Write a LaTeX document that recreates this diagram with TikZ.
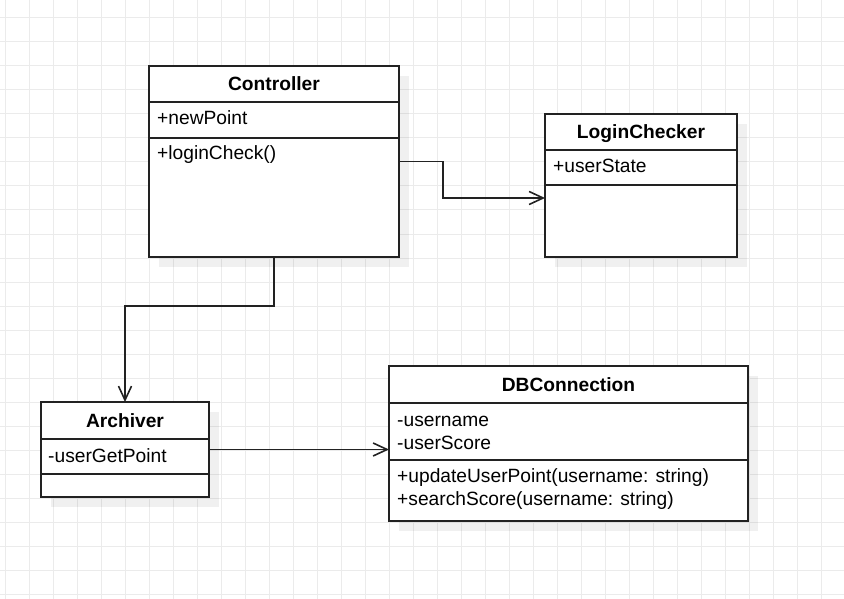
\documentclass[tikz,border=0pt]{standalone}
\usepackage{fontspec}
\setmainfont{Liberation Sans}
\usetikzlibrary{arrows.meta,calc}
\definecolor{gridc}{HTML}{EBEBEB}
\definecolor{linec}{HTML}{222222}
\tikzset{
  box/.style={draw=linec, line width=1.6pt, fill=white, anchor=north west, inner sep=0pt, outer sep=0pt},
  sep/.style={draw=linec, line width=1.6pt},
  shadowbox/.style={fill=black, fill opacity=0.06},
  title/.style={anchor=base, inner sep=0pt, font=\fontsize{19.2}{23}\selectfont\bfseries},
  member/.style={anchor=base west, inner sep=0pt, font=\fontsize{19.2}{23}\selectfont},
  conn/.style={draw=linec, line width=1.7pt, -{Straight Barb[length=14pt,width=13pt,line width=1.6pt]}},
}
\begin{document}
\begin{tikzpicture}[x=1pt,y=-1pt]
\useasboundingbox (0,0) rectangle (844,599);
\fill[white] (0,0) rectangle (844,599);
\foreach \i in {0,...,35} {\draw[gridc, line width=1pt] (5+24*\i,0) -- (5+24*\i,599);}
\foreach \j in {0,...,24} {\draw[gridc, line width=1pt] (0,18+24*\j) -- (844,18+24*\j);}

% shadows
\fill[shadowbox] (159,76) rectangle (409,267);
\fill[shadowbox] (555,124) rectangle (747,267);
\fill[shadowbox] (51,412) rectangle (219,507);
\fill[shadowbox] (399,376) rectangle (758,531);

% Controller
\node[box, minimum width=250pt, minimum height=191pt] (ctrl) at (149,66) {};
\draw[sep] ($(ctrl.north west)+(0,36)$) -- ($(ctrl.north east)+(0,36)$);
\draw[sep] ($(ctrl.north west)+(0,72)$) -- ($(ctrl.north east)+(0,72)$);
\node[title] (ctrlT) at ($(ctrl.north)+(0,25)$) {Controller};
\node[member] (ctrlA) at ($(ctrl.north west)+(8,59)$) {+newPoint};
\node[member] (ctrlM) at ($(ctrl.north west)+(8,94)$) {+loginCheck()};

% LoginChecker
\node[box, minimum width=192pt, minimum height=143pt] (login) at (545,114) {};
\draw[sep] ($(login.north west)+(0,36)$) -- ($(login.north east)+(0,36)$);
\draw[sep] ($(login.north west)+(0,71)$) -- ($(login.north east)+(0,71)$);
\node[title] (loginT) at ($(login.north)+(0,25)$) {LoginChecker};
\node[member] (loginA) at ($(login.north west)+(8,59)$) {+userState};

% Archiver
\node[box, minimum width=168pt, minimum height=95pt] (arch) at (41,402) {};
\draw[sep] ($(arch.north west)+(0,37)$) -- ($(arch.north east)+(0,37)$);
\draw[sep] ($(arch.north west)+(0,72)$) -- ($(arch.north east)+(0,72)$);
\node[title] (archT) at ($(arch.north)+(0,25)$) {Archiver};
\node[member] (archA) at ($(arch.north west)+(7,60)$) {-userGetPoint};

% DBConnection
\node[box, minimum width=359pt, minimum height=155pt] (db) at (389,366) {};
\draw[sep] ($(db.north west)+(0,37)$) -- ($(db.north east)+(0,37)$);
\draw[sep] ($(db.north west)+(0,94)$) -- ($(db.north east)+(0,94)$);
\node[title] (dbT) at ($(db.north)+(0,25)$) {DBConnection};
\node[member] (dbA1) at ($(db.north west)+(8,60)$) {-username};
\node[member] (dbA2) at ($(db.north west)+(8,83)$) {-userScore};
\node[member] (dbM1) at ($(db.north west)+(8,116)$) {+updateUserPoint(username: string)};
\node[member] (dbM2) at ($(db.north west)+(8,139)$) {+searchScore(username: string)};

% connectors
\coordinate (b1) at ($(ctrl.east)+(44,0)$);
\draw[conn] (ctrl.east) -- (b1) |- (login.west |- 0,198);
\coordinate (b2) at ($(ctrl.south)+(0,49)$);
\draw[conn] (ctrl.south) -- (b2) -| (arch.north);
\draw[conn] (arch.east) -- (db.west |- arch.east);
\end{tikzpicture}
\end{document}
